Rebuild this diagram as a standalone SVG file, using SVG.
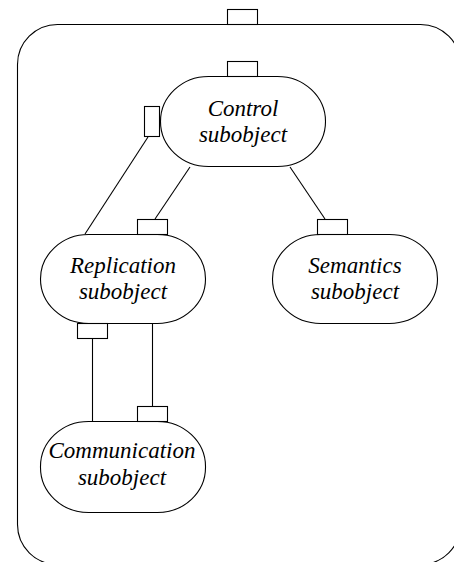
<svg xmlns="http://www.w3.org/2000/svg" width="454" height="562" viewBox="0 0 454 562">
<style>
.b{fill:#fff;stroke:#000;stroke-width:1.1}
.p{fill:#fff;stroke:#000;stroke-width:1.1}
.c{fill:none;stroke:#000;stroke-width:1.1}
.t{font-family:'Liberation Serif','Times New Roman',Times,'DejaVu Serif','Noto Serif',serif;font-style:italic;font-size:23px;text-anchor:middle;fill:#000}
</style>
<rect width="454" height="562" fill="#fff"/>
<g id="container">
<rect class="b" x="17.5" y="24.5" width="443" height="540" rx="40" ry="40"/>
<rect class="p" x="227.5" y="9.5" width="30" height="15"/>
</g>
<g id="connectors">
<line class="c" x1="148" y1="137" x2="85" y2="234"/>
<line class="c" x1="190" y1="167" x2="155" y2="219"/>
<line class="c" x1="290" y1="167" x2="325" y2="219"/>
<line class="c" x1="92.5" y1="339" x2="92.5" y2="421"/>
<line class="c" x1="152.5" y1="323" x2="152.5" y2="407"/>
</g>
<g id="control">
<rect class="b" x="160.5" y="76.5" width="165" height="90" rx="48" ry="45"/>
<rect class="p" x="227.5" y="61.5" width="30" height="15"/>
<rect class="p" x="144.5" y="106.5" width="15" height="30"/>
<text class="t" x="243" y="115.5">Control</text>
<text class="t" x="243" y="141.5">subobject</text>
</g>
<g id="replication">
<rect class="b" x="40.5" y="234.5" width="165" height="89" rx="48" ry="45"/>
<rect class="p" x="137.5" y="219.5" width="30" height="15"/>
<rect class="p" x="77.5" y="323.5" width="30" height="15"/>
<text class="t" x="123" y="273">Replication</text>
<text class="t" x="123" y="299">subobject</text>
</g>
<g id="semantics">
<rect class="b" x="272.5" y="234.5" width="165" height="89" rx="48" ry="45"/>
<rect class="p" x="317.5" y="219.5" width="30" height="15"/>
<text class="t" x="355" y="273">Semantics</text>
<text class="t" x="355" y="299">subobject</text>
</g>
<g id="communication">
<rect class="b" x="40.5" y="421.5" width="165" height="91" rx="48" ry="45"/>
<rect class="p" x="137.5" y="406.5" width="30" height="15"/>
<text class="t" x="122" y="458">Communication</text>
<text class="t" x="122" y="485">subobject</text>
</g>
</svg>
